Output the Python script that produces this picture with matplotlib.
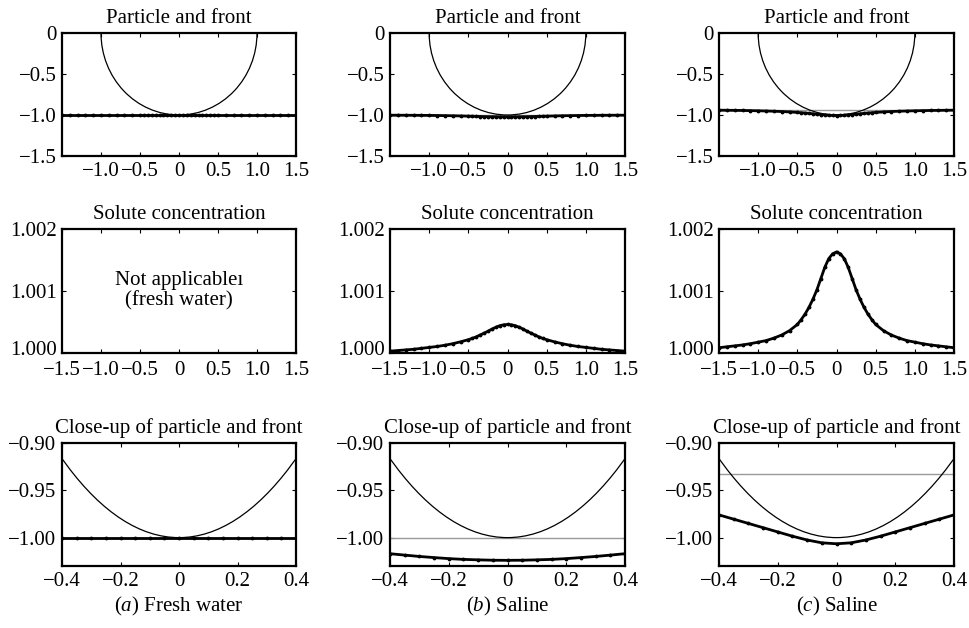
import matplotlib
matplotlib.use("Agg")
import matplotlib.pyplot as plt
from matplotlib.patches import Circle
from matplotlib.ticker import FixedLocator, FuncFormatter
from matplotlib.transforms import ScaledTranslation

plt.rcParams['font.family'] = ['Liberation Serif', 'DejaVu Serif']
plt.rcParams['mathtext.fontset'] = 'custom'
plt.rcParams['mathtext.rm'] = 'Liberation Serif'
plt.rcParams['mathtext.it'] = 'Liberation Serif:italic'

# ---------------- data ----------------
x_grid = [-1.5, -1.4, -1.3, -1.2, -1.1, -1.0, -0.9, -0.8, -0.7, -0.6,
          -0.5, -0.45, -0.4, -0.35, -0.3, -0.25, -0.2, -0.15, -0.1, -0.05,
          0.0, 0.05, 0.1, 0.15, 0.2, 0.25, 0.3, 0.35, 0.4, 0.45,
          0.5, 0.6, 0.7, 0.8, 0.9, 1.0, 1.1, 1.2, 1.3, 1.4, 1.5]

front_a = [-1.0] * len(x_grid)

front_b = [-1.0022, -1.0026, -1.0030, -1.0035, -1.0042, -1.0050, -1.0062, -1.0075, -1.0093, -1.0115,
           -1.0140, -1.0155, -1.0170, -1.0185, -1.0199, -1.0211, -1.0222, -1.0230, -1.0235, -1.0239,
           -1.0240, -1.0239, -1.0235, -1.0230, -1.0222, -1.0211, -1.0199, -1.0185, -1.0170, -1.0155,
           -1.0140, -1.0115, -1.0093, -1.0075, -1.0062, -1.0050, -1.0042, -1.0035, -1.0030, -1.0026, -1.0022]

front_c = [-0.9413, -0.9423, -0.9435, -0.9448, -0.9465, -0.9485, -0.9510, -0.9540, -0.9578, -0.9625,
           -0.9685, -0.9720, -0.9760, -0.9805, -0.9850, -0.9895, -0.9940, -0.9985, -1.0025, -1.0055,
           -1.0065, -1.0055, -1.0025, -0.9985, -0.9940, -0.9895, -0.9850, -0.9805, -0.9760, -0.9720,
           -0.9685, -0.9625, -0.9578, -0.9540, -0.9510, -0.9485, -0.9465, -0.9448, -0.9435, -0.9423, -0.9413]

conc_b = [1.00003, 1.00004, 1.00005, 1.00006, 1.000075, 1.00009, 1.000105, 1.000125, 1.00015, 1.00018,
          1.000215, 1.000235, 1.00026, 1.00029, 1.00032, 1.00035, 1.000385, 1.000415, 1.00044, 1.000455,
          1.00046, 1.000455, 1.00044, 1.000415, 1.000385, 1.00035, 1.00032, 1.00029, 1.00026, 1.000235,
          1.000215, 1.00018, 1.00015, 1.000125, 1.000105, 1.00009, 1.000075, 1.00006, 1.00005, 1.00004, 1.00003]

conc_c = [1.000085, 1.0001, 1.000115, 1.00013, 1.00015, 1.000175, 1.0002, 1.00024, 1.00029, 1.00036,
          1.00046, 1.00054, 1.00063, 1.00074, 1.00087, 1.00102, 1.0012, 1.00138, 1.00152, 1.0016,
          1.00163, 1.0016, 1.00152, 1.00138, 1.0012, 1.00102, 1.00087, 1.00074, 1.00063, 1.00054,
          1.00046, 1.00036, 1.00029, 1.00024, 1.0002, 1.000175, 1.00015, 1.00013, 1.000115, 1.0001, 1.000085]

initial_front = [-1.0, -1.0, -0.933]   # grey reference line per column
particle_center = (0.0, 0.0)
particle_radius = 1.0

fronts = [front_a, front_b, front_c]
concs = [None, conc_b, conc_c]
captions = [r"($\mathit{a}$) Fresh water", r"($\mathit{b}$) Saline", r"($\mathit{c}$) Saline"]

top_xticks = [-1.0, -0.5, 0.0, 0.5, 1.0, 1.5]
top_yticks = [-1.5, -1.0, -0.5, 0.0]
mid_xticks = [-1.5, -1.0, -0.5, 0.0, 0.5, 1.0, 1.5]
mid_yticks = [1.000, 1.001, 1.002]
mid_ylabels = ["1.000", "1.001", "1.002"]
bot_xticks = [-0.4, -0.2, 0.0, 0.2, 0.4]
bot_yticks = [-1.00, -0.95, -0.90]
bot_ylabels = ["\u22121.00", "\u22120.95", "\u22120.90"]

# ---------------- figure ----------------
W, H = 970, 628
fig = plt.figure(figsize=(W / 100, H / 100), dpi=100)

col_left = [62, 390, 719]
col_right = [296, 625, 954]
row_top = [33, 229, 443]
row_bot = [156, 353, 566]

FS = 15


def fmt1(v, pos=None):
    if abs(v) < 1e-9:
        return "0"
    s = f"{v:.1f}"
    return s.replace("-", "\u2212")


def add_ax(c, r):
    l = col_left[c] / W
    w = (col_right[c] - col_left[c]) / W
    b = 1 - row_bot[r] / H
    h = (row_bot[r] - row_top[r]) / H
    ax = fig.add_axes([l, b, w, h])
    for s in ax.spines.values():
        s.set_linewidth(1.6)
    ax.tick_params(direction='in', top=True, right=True, length=3, width=0.8,
                   labelsize=FS, pad=4)
    return ax


def draw_front(ax, y):
    ax.plot(x_grid, y, color='black', lw=2.0, marker='.', markersize=3.5, zorder=4)


for c in range(3):
    # top row
    ax = add_ax(c, 0)
    ax.axhline(initial_front[c], color='#999999', lw=1.0, zorder=2)
    ax.add_patch(Circle(particle_center, particle_radius, fill=False, color='black', lw=0.9, zorder=3))
    draw_front(ax, fronts[c])
    ax.set_xlim(-1.5, 1.5)
    ax.set_ylim(-1.5, 0)
    ax.xaxis.set_major_locator(FixedLocator(top_xticks))
    ax.yaxis.set_major_locator(FixedLocator(top_yticks))
    ax.xaxis.set_major_formatter(FuncFormatter(fmt1))
    ax.yaxis.set_major_formatter(FuncFormatter(fmt1))
    ax.set_title("Particle and front", fontsize=FS, pad=7)

    # middle row
    ax = add_ax(c, 1)
    ax.tick_params(axis='x', pad=6)
    if concs[c] is None:
        ax.text(0.0, 1.001, "Not applicable\u0131\n(fresh water)", ha='center', va='center',
                fontsize=FS, linespacing=1.1)
    else:
        ax.plot(x_grid, concs[c], color='black', lw=2.0, marker='.', markersize=3.5, zorder=4)
    ax.set_xlim(-1.5, 1.5)
    ax.set_ylim(1.000, 1.002)
    ax.xaxis.set_major_locator(FixedLocator(mid_xticks))
    ax.xaxis.set_major_formatter(FuncFormatter(fmt1))
    ax.set_yticks(mid_yticks)
    ax.set_yticklabels(mid_ylabels)
    lab0 = ax.get_yticklabels()[0]
    lab0.set_transform(lab0.get_transform() + ScaledTranslation(0, 5 / 100, fig.dpi_scale_trans))
    ax.set_title("Solute concentration", fontsize=FS, pad=7)

    # bottom row
    ax = add_ax(c, 2)
    ax.axhline(initial_front[c], color='#999999', lw=1.0, zorder=2)
    ax.add_patch(Circle(particle_center, particle_radius, fill=False, color='black', lw=0.9, zorder=3))
    draw_front(ax, fronts[c])
    ax.set_xlim(-0.4, 0.4)
    ax.set_ylim(-1.03, -0.90)
    ax.xaxis.set_major_locator(FixedLocator(bot_xticks))
    ax.xaxis.set_major_formatter(FuncFormatter(fmt1))
    ax.set_yticks(bot_yticks)
    ax.set_yticklabels(bot_ylabels)
    ax.set_title("Close-up of particle and front", fontsize=FS, pad=7)

    xc = (col_left[c] + col_right[c]) / 2 / W
    fig.text(xc, 1 - 606 / H, captions[c], ha='center', va='center', fontsize=FS)

fig.savefig("out.png", dpi=100)
